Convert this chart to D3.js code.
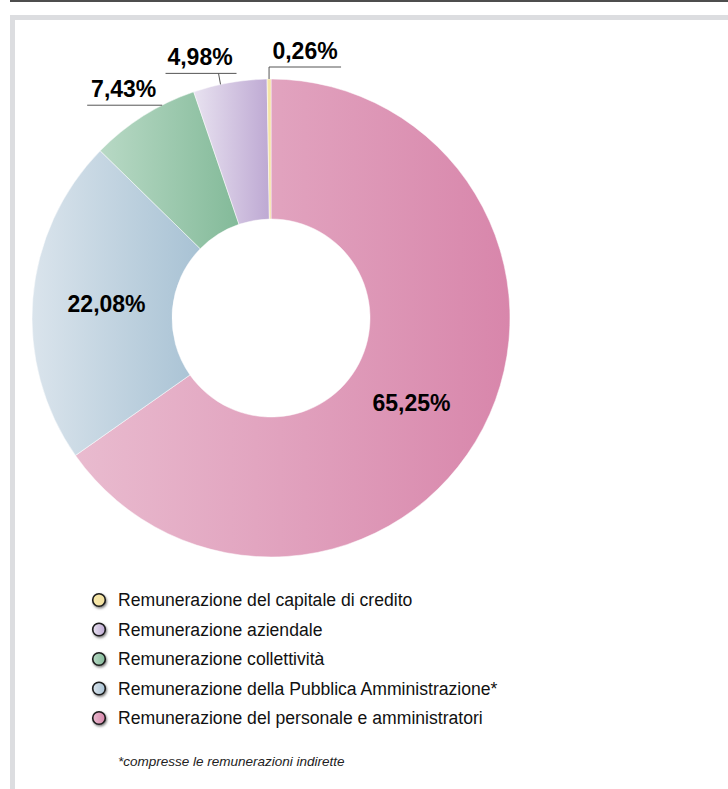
<!doctype html>
<html lang="it">
  <head>
    <meta charset="UTF-8" />
    <title>Ripartizione del valore aggiunto</title>
    <script src="https://unpkg.com/d3@7.9.0/dist/d3.min.js"></script>
    <style>
      body {
        margin: 0;
        background: #fff;
        font-family: 'Liberation Sans', Arial, Helvetica, sans-serif;
      }
      svg {
        display: block;
      }
    </style>
  </head>
  <body>
    <div id="chart"></div>

    <script>
      // slices, clockwise from the top
      const categories = [
        'Remunerazione del personale e amministratori',
        'Remunerazione della Pubblica Amministrazione*',
        'Remunerazione collettività',
        'Remunerazione aziendale',
        'Remunerazione del capitale di credito',
      ];
      const values = [65.25, 22.08, 7.43, 4.98, 0.26];
      const labels = ['65,25%', '22,08%', '7,43%', '4,98%', '0,26%'];
      // gradient stops, light (left) -> dark (right)
      const lightColors = ['#e9bbcf', '#dae4ec', '#b8d9c5', '#e8e2f0', '#f7e8aa'];
      const darkColors = ['#d886ab', '#a8c2d4', '#83ba99', '#bea9d3', '#f2e0a0'];
      // legend order, top to bottom
      const legendOrder = [4, 3, 2, 1, 0];
      const footnote = '*compresse le remunerazioni indirette';

      const W = 728;
      const H = 789;
      const cx = 271;
      const cy = 318;
      const outerR = 239;
      const innerR = 99;

      const svg = d3
        .select('#chart')
        .append('svg')
        .attr('width', W)
        .attr('height', H);

      const defs = svg.append('defs');

      // page frame
      svg.append('rect')
        .attr('x', 10).attr('y', 0)
        .attr('width', W - 10).attr('height', 2)
        .attr('fill', '#4d4d4d');
      svg.append('rect')
        .attr('x', 10).attr('y', 15)
        .attr('width', W - 10).attr('height', 5)
        .attr('fill', '#dcdde0');
      svg.append('rect')
        .attr('x', 10).attr('y', 15)
        .attr('width', 5).attr('height', H - 15)
        .attr('fill', '#dcdde0');

      values.forEach((v, i) => {
        const g = defs
          .append('linearGradient')
          .attr('id', 'grad' + i)
          .attr('x1', '0%').attr('x2', '100%')
          .attr('y1', '0%').attr('y2', '0%');
        g.append('stop').attr('offset', '0%').attr('stop-color', lightColors[i]);
        g.append('stop').attr('offset', '100%').attr('stop-color', darkColors[i]);
      });

      const shadow = defs.append('filter')
        .attr('id', 'shadow')
        .attr('x', '-50%').attr('y', '-50%')
        .attr('width', '200%').attr('height', '200%');
      shadow.append('feDropShadow')
        .attr('dx', 1).attr('dy', 1.5)
        .attr('stdDeviation', 1)
        .attr('flood-color', '#000')
        .attr('flood-opacity', 0.5);

      const pie = d3.pie().sort(null).value((d) => d);
      const arcs = pie(values);
      const arc = d3.arc().innerRadius(innerR).outerRadius(outerR);

      const chart = svg.append('g').attr('transform', `translate(${cx},${cy})`);

      chart
        .selectAll('path.slice')
        .data(arcs)
        .enter()
        .append('path')
        .attr('class', 'slice')
        .attr('d', arc)
        .attr('fill', (d, i) => `url(#grad${i})`)
        .attr('stroke', '#fff')
        .attr('stroke-width', 0.5);

      // labels inside the two large slices
      const labelArc = d3.arc().innerRadius(innerR + 66).outerRadius(innerR + 66);
      const insideShift = [[-6, 9], [0, -1]];
      chart
        .selectAll('text.inside')
        .data(arcs.slice(0, 2))
        .enter()
        .append('text')
        .attr('class', 'inside')
        .attr('x', (d, i) => labelArc.centroid(d)[0] + insideShift[i][0])
        .attr('y', (d, i) => labelArc.centroid(d)[1] + insideShift[i][1])
        .attr('dy', '0.36em')
        .attr('text-anchor', 'middle')
        .attr('font-size', 23)
        .attr('font-weight', 'bold')
        .attr('fill', '#000')
        .text((d, i) => labels[i]);

      // outer labels with leader lines
      // angle offset from slice mid (rad), elbow rise, line span left/right of elbow
      const callouts = [
        { i: 2, da: 0.09, rise: 0, shift: 0, left: 75, right: 0 },
        { i: 3, da: -0.04, rise: 11, shift: -2, left: 53, right: 18 },
        { i: 4, da: 0, rise: 12, shift: 0, left: 0, right: 72 },
      ];
      callouts.forEach((c) => {
        const d = arcs[c.i];
        const a = (d.startAngle + d.endAngle) / 2 + c.da;
        const px = outerR * Math.sin(a);
        const py = -outerR * Math.cos(a);
        const ex = px + c.shift;
        const ey = py - c.rise;
        const x0 = ex - c.left;
        const x1 = ex + c.right;
        const path = d3.path();
        path.moveTo(px, py);
        path.lineTo(ex, ey);
        path.moveTo(x0, ey);
        path.lineTo(x1, ey);
        chart.append('path')
          .attr('d', path.toString())
          .attr('fill', 'none')
          .attr('stroke', '#555')
          .attr('stroke-width', 1);
        chart.append('text')
          .attr('x', (x0 + x1) / 2 + (c.i === 4 ? 0 : -1))
          .attr('y', ey - 8)
          .attr('text-anchor', 'middle')
          .attr('font-size', 23)
          .attr('font-weight', 'bold')
          .attr('fill', '#000')
          .text(labels[c.i]);
      });

      // legend
      const rowY = d3.scalePoint()
        .domain(legendOrder)
        .range([600, 718]);

      const legend = svg.append('g');
      const rows = legend
        .selectAll('g.row')
        .data(legendOrder)
        .enter()
        .append('g')
        .attr('class', 'row')
        .attr('transform', (i) => `translate(99,${rowY(i)})`);

      rows.append('circle')
        .attr('r', 6.3)
        .attr('fill', (i) => `url(#grad${i})`)
        .attr('stroke', '#1a1a1a')
        .attr('stroke-width', 1.6)
        .attr('filter', 'url(#shadow)');

      rows.append('text')
        .attr('x', 19)
        .attr('dy', '0.36em')
        .attr('font-size', 17.6)
        .attr('fill', '#111')
        .text((i) => categories[i]);

      svg.append('text')
        .attr('x', 118)
        .attr('y', 766)
        .attr('font-size', 13.5)
        .attr('font-style', 'italic')
        .attr('fill', '#222')
        .text(footnote);
    </script>
  </body>
</html>
